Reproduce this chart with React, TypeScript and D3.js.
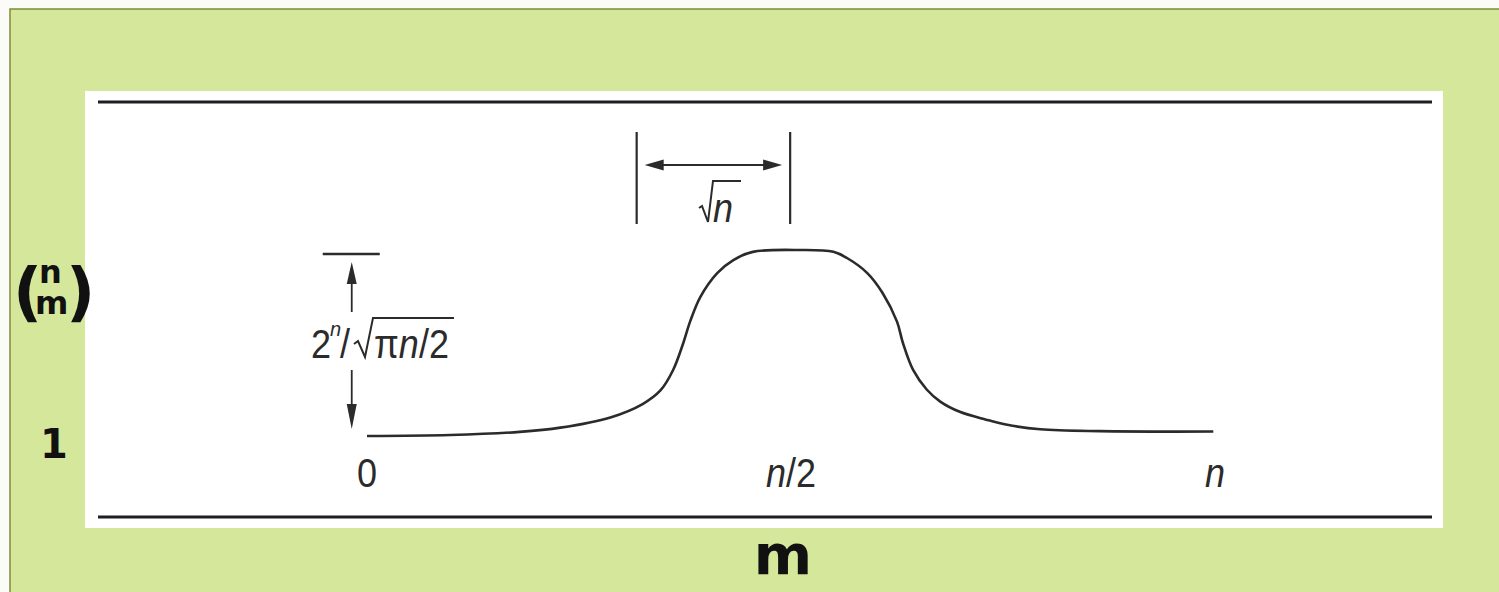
import React from "react";
import * as d3 from "d3";

// curve samples: m as fraction of n, height as fraction between 1 and the peak C(n, n/2)
const curveM = [0, 0.098, 0.18, 0.228, 0.287, 0.325, 0.346, 0.361, 0.373, 0.381, 0.393, 0.413, 0.432, 0.455, 0.511, 0.55, 0.566, 0.59, 0.608, 0.625, 0.632, 0.644, 0.66, 0.676, 0.699, 0.73, 0.755, 0.794, 0.864, 0.998];
const curveH = [0, 0.005, 0.022, 0.045, 0.1, 0.172, 0.245, 0.355, 0.5, 0.615, 0.747, 0.876, 0.946, 0.99, 1.0, 0.99, 0.957, 0.876, 0.769, 0.615, 0.5, 0.355, 0.25, 0.185, 0.13, 0.088, 0.06, 0.036, 0.026, 0.024];
const tickValues = [0, 0.5, 1];
const tickLabels = ["0", "n/2", "n"];
const sqrtBracket = [0.318, 0.499];
const heightArrowM = -0.018;

const W = 1499;
const H = 592;

export default function App() {
  const x = d3.scaleLinear().domain([0, 1]).range([367, 1215]);
  const y = d3.scaleLinear().domain([0, 1]).range([436, 250]);
  const pts: [number, number][] = curveM.map((m, i) => [m, curveH[i]]);
  const line = d3
    .line<[number, number]>()
    .x((d) => x(d[0]))
    .y((d) => y(d[1]))
    .curve(d3.curveCatmullRom.alpha(0.5));

  const ink = "#2b2b2b";
  const labelFont = "'Liberation Sans', Arial, sans-serif";
  const boldFont = "'DejaVu Sans', sans-serif";

  const ax = x(heightArrowM);
  const bx0 = x(sqrtBracket[0]);
  const bx1 = x(sqrtBracket[1]);
  const topY = y(1);

  return (
    <svg
      width={W}
      height={H}
      style={{ position: "absolute", left: 0, top: 0, background: "#fbfcf7" }}
    >
      <rect x={10} y={9} width={W} height={H} fill="#d4e79a" stroke="#7f8a3a" strokeWidth={1.5} />
      <rect x={85} y={91} width={1358} height={437} fill="#ffffff" />
      <line x1={98} x2={1432} y1={102} y2={102} stroke="#1e1e24" strokeWidth={3} />
      <line x1={98} x2={1432} y1={517} y2={517} stroke="#1e1e24" strokeWidth={3} />

      {/* curve */}
      <path d={line(pts) || ""} fill="none" stroke={ink} strokeWidth={2.6} />

      {/* x tick labels */}
      {tickValues.map((v, i) => (
        <text
          key={i}
          transform={`translate(${x(v)},${487}) scale(0.9,1)`}
          textAnchor="middle"
          fontFamily={labelFont}
          fontSize={40}
          fill={ink}
        >
          {tickLabels[i] === "0" ? (
            "0"
          ) : tickLabels[i] === "n" ? (
            <tspan fontStyle="italic">n</tspan>
          ) : (
            <>
              <tspan fontStyle="italic">n</tspan>
              <tspan>/2</tspan>
            </>
          )}
        </text>
      ))}

      {/* height annotation */}
      <line x1={ax - 29} x2={ax + 28} y1={topY + 4} y2={topY + 4} stroke={ink} strokeWidth={2.5} />
      <line x1={ax} x2={ax} y1={topY + 18} y2={312} stroke={ink} strokeWidth={1.8} />
      <path d={`M${ax},${topY + 12} L${ax - 5},${topY + 34} L${ax + 5},${topY + 34} Z`} fill={ink} />
      <line x1={ax} x2={ax} y1={370} y2={415} stroke={ink} strokeWidth={1.8} />
      <path d={`M${ax},${y(0) - 7} L${ax - 5},${y(0) - 32} L${ax + 5},${y(0) - 32} Z`} fill={ink} />
      <text transform="translate(311,358) scale(0.9,1)" fontFamily={labelFont} fontSize={40} fill={ink}>
        2
      </text>
      <text x={330} y={336} fontFamily={labelFont} fontSize={20} fontStyle="italic" fill={ink}>
        n
      </text>
      <text transform="translate(340,358) scale(0.9,1)" fontFamily={labelFont} fontSize={40} fill={ink}>
        /
      </text>
      <path
        d="M354,344 L358,341 L365,357 L373,318 L454,318"
        fill="none"
        stroke={ink}
        strokeWidth={2}
      />
      <text transform="translate(374,358) scale(0.9,1)" fontFamily={labelFont} fontSize={40} fill={ink}>
        π<tspan fontStyle="italic">n</tspan>/2
      </text>

      {/* sqrt(n) width annotation */}
      <line x1={bx0} x2={bx0} y1={132} y2={224} stroke={ink} strokeWidth={2.2} />
      <line x1={bx1} x2={bx1} y1={132} y2={224} stroke={ink} strokeWidth={2.2} />
      <line x1={bx0 + 14} x2={bx1 - 14} y1={165} y2={165} stroke={ink} strokeWidth={2} />
      <path d={`M${bx0 + 8},165 L${bx0 + 27},159.5 L${bx0 + 27},170.5 Z`} fill={ink} />
      <path d={`M${bx1 - 8},165 L${bx1 - 27},159.5 L${bx1 - 27},170.5 Z`} fill={ink} />
      <path d="M699,208 L702,206 L708,222 L713,181 L741,181" fill="none" stroke={ink} strokeWidth={2} />
      <text transform="translate(713,222) scale(0.9,1)" fontFamily={labelFont} fontSize={40} fontStyle="italic" fill={ink}>
        n
      </text>

      {/* binomial axis label */}
      <text x={13} y={314} fontFamily={boldFont} fontWeight="bold" fontSize={64} fill="#111">
        (
      </text>
      <text x={39} y={283} fontFamily={boldFont} fontWeight="bold" fontSize={32} fill="#111">
        n
      </text>
      <text x={35} y={314} fontFamily={boldFont} fontWeight="bold" fontSize={32} fill="#111">
        m
      </text>
      <text x={66} y={314} fontFamily={boldFont} fontWeight="bold" fontSize={64} fill="#111">
        )
      </text>
      <text x={54} y={458} textAnchor="middle" fontFamily={boldFont} fontWeight="bold" fontSize={40} fill="#111">
        1
      </text>
      <text x={783} y={574} textAnchor="middle" fontFamily={boldFont} fontWeight="bold" fontSize={56} fill="#111">
        m
      </text>
    </svg>
  );
}
